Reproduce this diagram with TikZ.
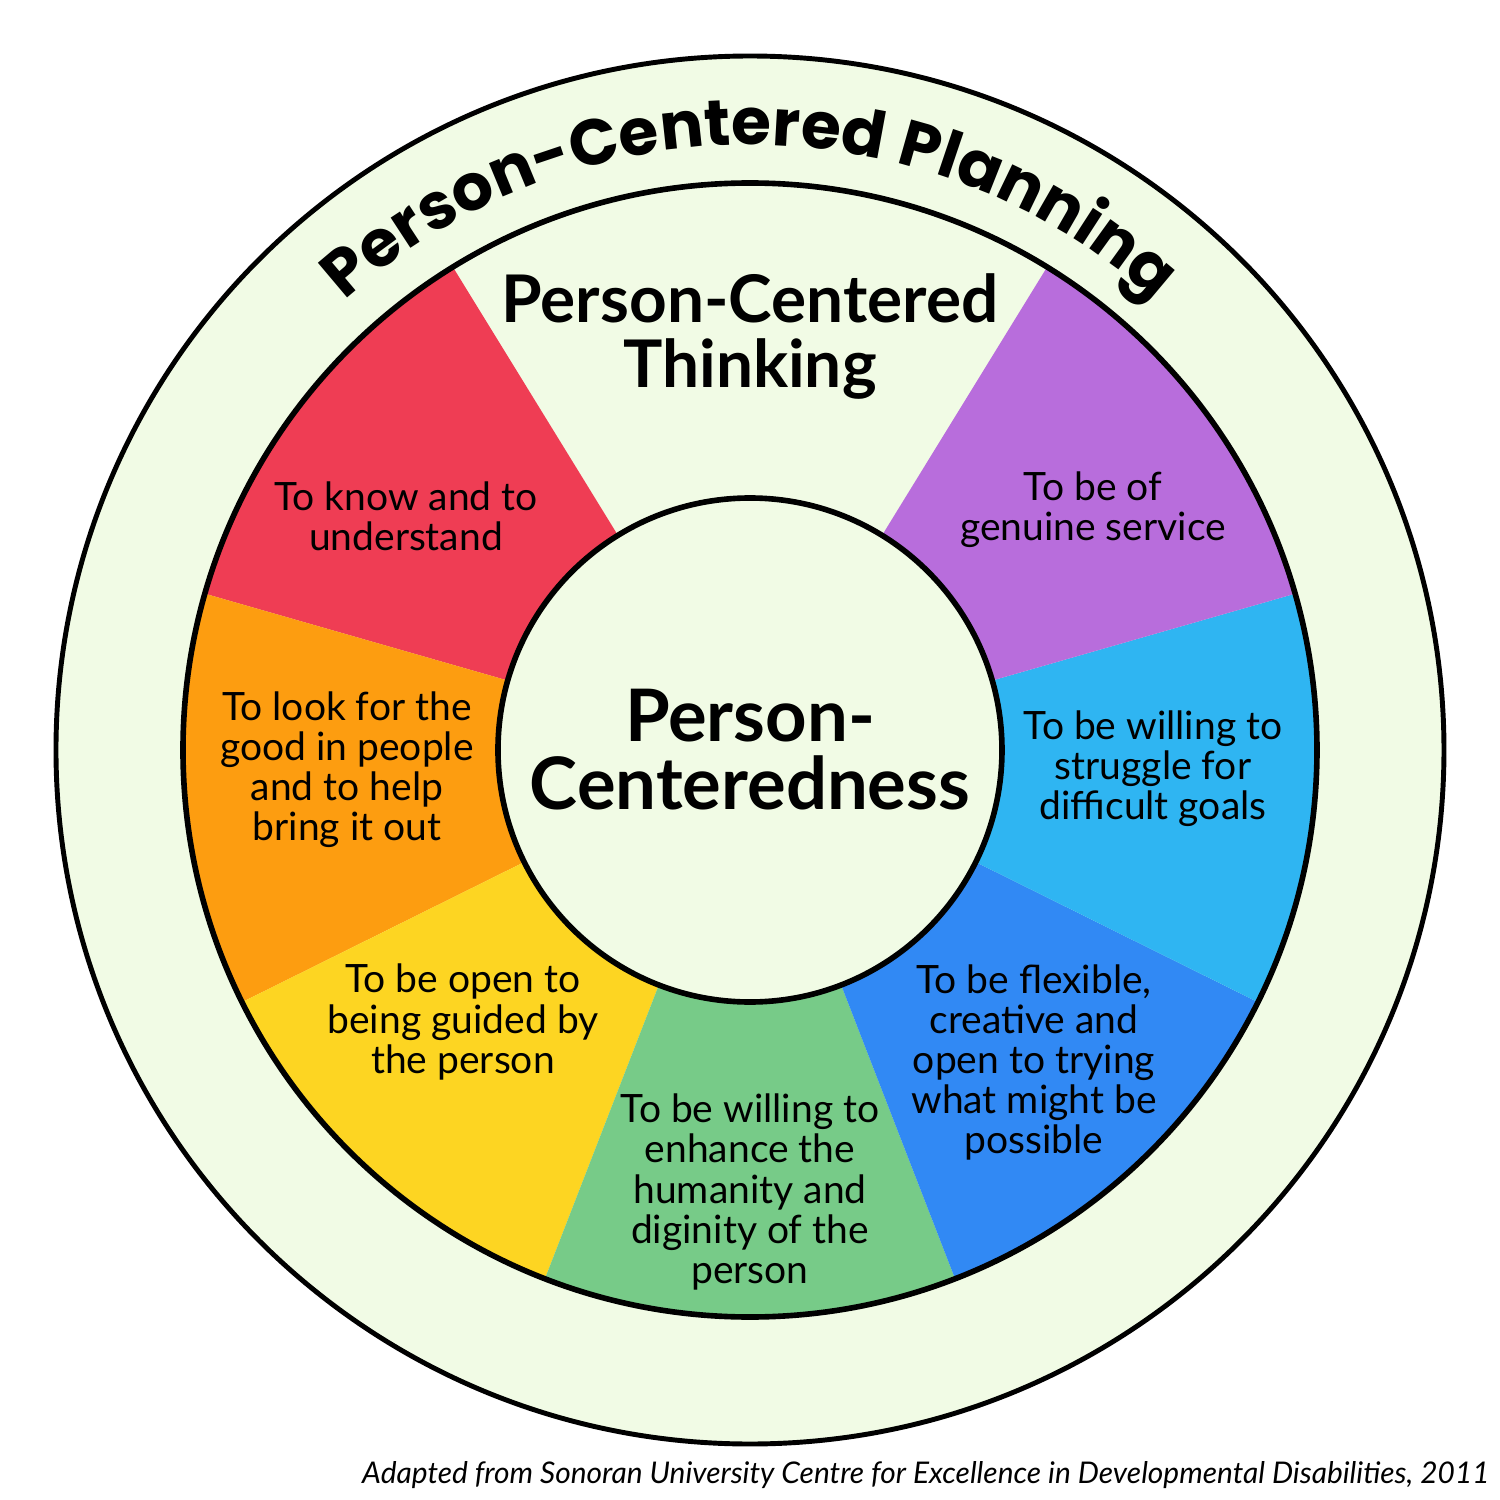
\documentclass[tikz,border=0pt]{standalone}
\usepackage{fontspec}
\setmainfont{Lato}
\newfontfamily\arcfont{Poppins}
\usetikzlibrary{decorations.text}

\definecolor{paleground}{HTML}{F1FBE5}
\definecolor{segred}{HTML}{EF3D54}
\definecolor{segorange}{HTML}{FD9D10}
\definecolor{segyellow}{HTML}{FDD522}
\definecolor{seggreen}{HTML}{77CB88}
\definecolor{segblue}{HTML}{3189F4}
\definecolor{segcyan}{HTML}{2FB5F2}
\definecolor{segpurple}{HTML}{B86DDC}

\begin{document}
\begin{tikzpicture}[
  ringline/.style={draw=black, line width=1.6pt},
  seglabel/.style={align=center, inner sep=0pt, text=black,
    font=\fontsize{11.1}{11.4}\selectfont},
  headline/.style={align=center, inner sep=0pt, text=black,
    font=\bfseries\fontsize{18.7}{18.5}\selectfont},
  coreline/.style={align=center, inner sep=0pt, text=black,
    font=\bfseries\fontsize{20.6}{19.35}\selectfont}
]
% page
\fill[white] (-7.5,-7.5) rectangle (7.5,7.5);
\useasboundingbox (-7.5,-7.5) rectangle (7.5,7.5);

% outer ring
\node[circle, inner sep=0pt, minimum size=13.88cm, fill=paleground,
      draw=black, line width=1.4pt] (outer) at (0,0) {};

% wedges of the wheel (the top slice stays pale)
\def\wr{5.67}
\fill[segred]    (0,0) -- (121.6:\wr) arc[start angle=121.6, end angle=164.0, radius=\wr] -- cycle;
\fill[segorange] (0,0) -- (164.0:\wr) arc[start angle=164.0, end angle=206.4, radius=\wr] -- cycle;
\fill[segyellow] (0,0) -- (206.4:\wr) arc[start angle=206.4, end angle=248.8, radius=\wr] -- cycle;
\fill[seggreen]  (0,0) -- (248.8:\wr) arc[start angle=248.8, end angle=291.2, radius=\wr] -- cycle;
\fill[segblue]   (0,0) -- (291.2:\wr) arc[start angle=291.2, end angle=333.6, radius=\wr] -- cycle;
\fill[segcyan]   (0,0) -- (-26.4:\wr) arc[start angle=-26.4, end angle=16.0, radius=\wr] -- cycle;
\fill[segpurple] (0,0) -- (16.0:\wr)  arc[start angle=16.0, end angle=58.4, radius=\wr] -- cycle;

% wheel rim and hub
\node[circle, inner sep=0pt, minimum size=11.34cm, ringline] (wheel) at (0,0) {};
\node[circle, inner sep=0pt, minimum size=5.04cm, fill=paleground, ringline] (hub) at (0,0) {};

% curved title
\path[decorate, decoration={text along path, text align=center,
  text={|\arcfont\bfseries\fontsize{18.4}{18.4}\selectfont|Person-Centered Planning}}]
  (180:6.05) arc[start angle=180, end angle=0, radius=6.05];

% titles
\node[headline] (thinking) at (0,4.13) {Person-Centered\\Thinking};
\node[coreline] (core) at (hub) {Person-\\Centeredness};

% wedge labels
\node[seglabel] (know)     at (-3.44, 2.34)  {To know and to\\understand};
\node[seglabel] (service)  at ( 3.43, 2.40)  {To be of\\genuine service};
\node[seglabel] (good)     at (-4.03,-0.20)  {To look for the\\good in people\\and to help\\bring it out};
\node[seglabel] (struggle) at ( 4.03,-0.19)  {To be willing to\\struggle for\\difficult goals};
\node[seglabel] (guided)   at (-2.87,-2.72)  {To be open to\\being guided by\\the person};
\node[seglabel] (flexible) at ( 2.84,-3.125) {To be flexible,\\creative and\\open to trying\\what might be\\possible};
\node[seglabel] (humanity) at ( 0.00,-4.42)  {To be willing to\\enhance the\\humanity and\\diginity of the\\person};

% source note
\node[anchor=base east, inner sep=0pt, font=\itshape\fontsize{8.5}{9.5}\selectfont] (source)
  at (7.40,-7.33) {Adapted from Sonoran University Centre for Excellence in Developmental Disabilities, 2011};
\end{tikzpicture}
\end{document}
